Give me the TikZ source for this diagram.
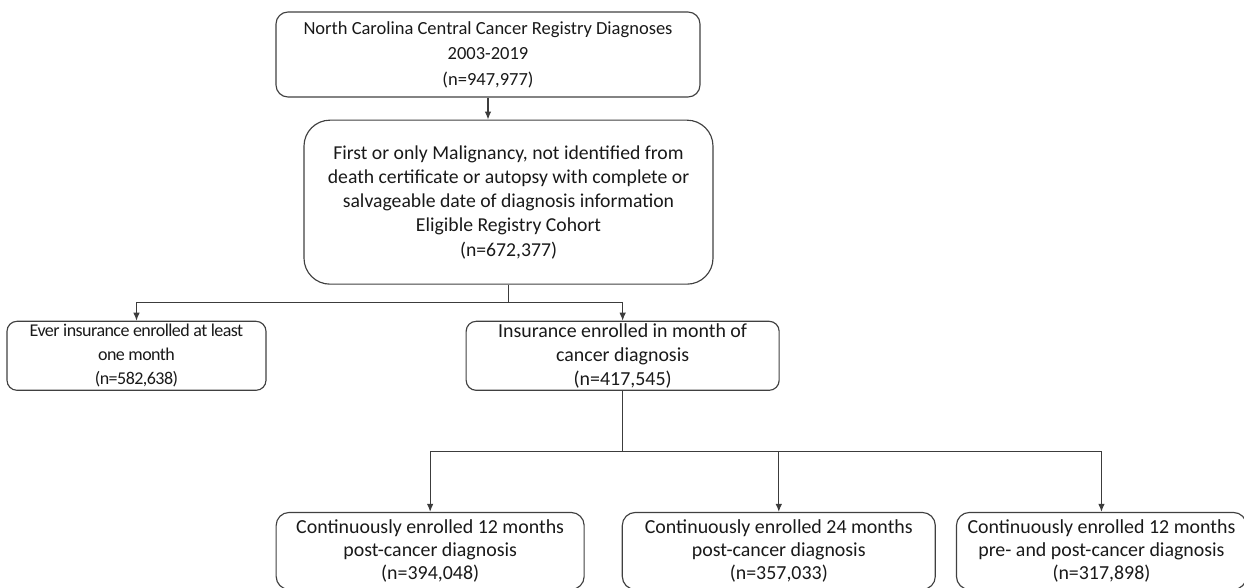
\documentclass[tikz,border=0pt]{standalone}
\usepackage{fontspec}
\setmainfont{Carlito}
\newfontfamily\tightfont[LetterSpace=-3]{Carlito}
\usepackage{xcolor}
\usepackage{tikz}
\usetikzlibrary{arrows.meta, positioning}
\definecolor{boxline}{HTML}{404040}
\definecolor{connline}{HTML}{3C3C3C}
\tikzset{
  flowbox/.style={draw=boxline, line width=1.15pt, rectangle, align=center, inner sep=0pt, text=black!90},
  registrynode/.style={flowbox, rounded corners=12pt, minimum width=424pt, minimum height=85pt,
    font=\fontsize{18.5}{25.5}\selectfont},
  cohortnode/.style={flowbox, rounded corners=26pt, minimum width=409pt, minimum height=164pt,
    font=\fontsize{19.7}{24.3}\selectfont},
  enrolnode/.style={flowbox, rounded corners=10pt, minimum height=69pt,
    font=\fontsize{19.9}{24}\selectfont},
  continuousnode/.style={flowbox, rounded corners=13pt, minimum height=77pt,
    font=\fontsize{19.9}{23}\selectfont},
  link/.style={draw=connline, line width=1.1pt},
  arrow/.style={link, -{Latex[length=8pt, width=6.5pt]}}
}
\begin{document}
\begin{tikzpicture}[x=1pt, y=1pt]
\useasboundingbox (0,0) rectangle (1244,-587);

% Nodes
\node[registrynode] (registry) at (488,-54.5) {North Carolina Central Cancer Registry Diagnoses\\2003-2019\\(n=947,977)};
\node[cohortnode, below=22pt of registry, xshift=20.5pt] (cohort) {First or only Malignancy, not identified from\\death certificate or autopsy with complete or\\salvageable date of diagnosis information\\Eligible Registry Cohort\\(n=672,377)};
\node[enrolnode, minimum width=259pt, below=36pt of cohort, xshift=-372pt, font=\tightfont\fontsize{18}{24}\selectfont] (ever) {Ever insurance enrolled at least\\one month\\(n=582,638)};
\node[enrolnode, minimum width=313pt, right=199pt of ever] (monthdx) {Insurance enrolled in month of\\cancer diagnosis\\(n=417,545)};
\node[continuousnode, minimum width=308pt, below=121pt of monthdx, xshift=-192.5pt] (post12) {Continuously enrolled 12 months\\post-cancer diagnosis\\(n=394,048)};
\node[continuousnode, minimum width=313pt, right=37pt of post12] (post24) {Continuously enrolled 24 months\\post-cancer diagnosis\\(n=357,033)};
\node[continuousnode, minimum width=290pt, right=20pt of post24] (prepost12) {Continuously enrolled 12 months\\pre- and post-cancer diagnosis\\(n=317,898)};

% Split points
\coordinate[below=18pt of cohort.south] (split1);
\coordinate[below=61pt of monthdx.south] (split2);

% Edges
\draw[arrow] (registry.south) -- (registry.south |- cohort.north);
\draw[link] (cohort.south) -- (split1);
\draw[arrow] (split1) -| (ever);
\draw[arrow] (split1) -| (monthdx);
\draw[link] (monthdx.south) -- (split2);
\draw[arrow] (split2) -| (post12);
\draw[arrow] (split2) -| (post24);
\draw[arrow] (split2) -| (prepost12);

\end{tikzpicture}
\end{document}
